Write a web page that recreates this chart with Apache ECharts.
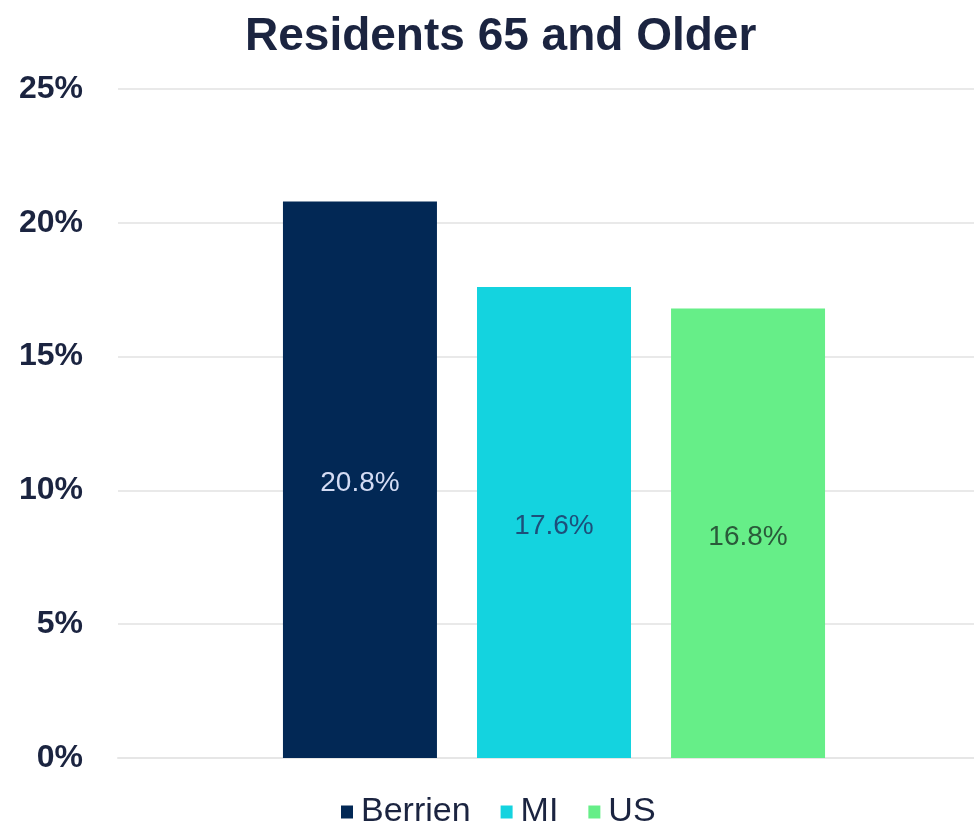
<!DOCTYPE html>
<html>
<head>
<meta charset="utf-8">
<script src="https://cdn.jsdelivr.net/npm/echarts@6/dist/echarts.min.js"></script>
<style>
  html, body { margin: 0; padding: 0; background: #fff; }
  #chart { width: 974px; height: 832px; }
</style>
</head>
<body>
<div id="chart"></div>
<script>
// data
const seriesNames = ['Berrien', 'MI', 'US'];
const seriesValues = [20.8, 17.6, 16.8];
const barColors = ['#022855', '#14d3df', '#66ee88'];
const labelColors = ['#d4dcf4', '#1d4f7a', '#2a5a3a'];
const yTicks = [0, 5, 10, 15, 20, 25];

const chart = echarts.init(document.getElementById('chart'));

const option = {
  backgroundColor: '#fff',
  title: {
    text: 'Residents 65 and Older',
    left: 240,
    top: 9,
    textStyle: {
      fontFamily: 'Liberation Sans',
      fontSize: 46,
      fontWeight: 'bold',
      color: '#1b2440'
    }
  },
  legend: {
    data: seriesNames,
    bottom: -2,
    left: 336,
    icon: 'rect',
    itemWidth: 12,
    itemHeight: 13,
    itemGap: 30,
    textStyle: {
      fontFamily: 'Liberation Sans',
      fontSize: 34,
      color: '#1b2440',
      padding: [0, 0, 0, 3]
    }
  },
  grid: {
    left: 118,
    top: 89,
    width: 872,
    height: 669,
    outerBoundsMode: 'none'
  },
  xAxis: {
    type: 'category',
    data: [''],
    axisLine: { lineStyle: { color: '#e6e6e6', width: 2 } },
    axisTick: { show: false },
    axisLabel: { show: false }
  },
  yAxis: {
    type: 'value',
    min: yTicks[0],
    max: yTicks[yTicks.length - 1],
    interval: 5,
    axisLabel: {
      formatter: '{value}%',
      margin: 35,
      fontFamily: 'Liberation Sans',
      fontSize: 32,
      fontWeight: 'bold',
      color: '#1b2440'
    },
    splitLine: { lineStyle: { color: '#e9e9e9', width: 2 } },
    axisLine: { show: false },
    axisTick: { show: false }
  },
  series: seriesNames.map((name, i) => ({
    name: name,
    type: 'bar',
    data: [seriesValues[i]],
    barWidth: 154,
    barGap: '26%',
    itemStyle: { color: barColors[i] },
    label: {
      show: true,
      position: 'inside',
      offset: [0, 4],
      formatter: '{c}%',
      fontFamily: 'Liberation Sans',
      fontSize: 28,
      color: labelColors[i]
    }
  }))
};

chart.setOption(option);
</script>
</body>
</html>
